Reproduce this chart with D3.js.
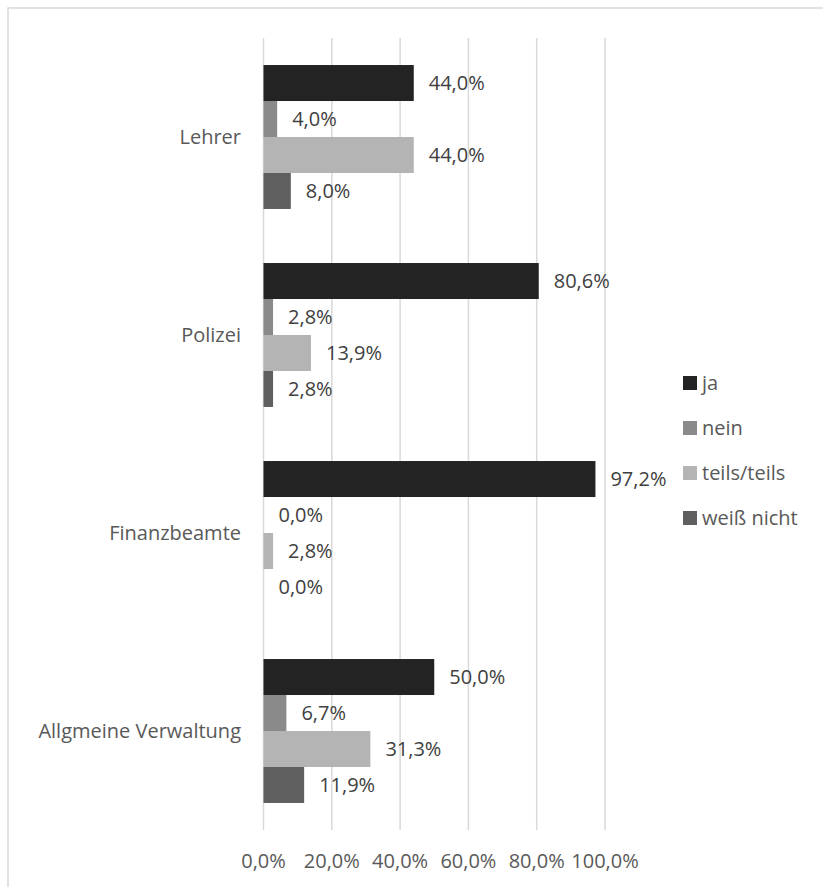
<!DOCTYPE html>
<html>
<head>
<meta charset="utf-8">
<script src="https://cdn.jsdelivr.net/npm/d3@7"></script>
<style>
  body { margin: 0; background: #fff; }
</style>
</head>
<body>
<div id="chart"></div>
<script>
var categories = ["Lehrer", "Polizei", "Finanzbeamte", "Allgmeine Verwaltung"];
var seriesNames = ["ja", "nein", "teils/teils", "weiß nicht"];
var seriesColors = ["#232323", "#8a8a8a", "#b4b4b4", "#5f5f5f"];
var jaValues = [44.0, 80.6, 97.2, 50.0];
var neinValues = [4.0, 2.8, 0.0, 6.7];
var teilsValues = [44.0, 13.9, 2.8, 31.3];
var weissValues = [8.0, 2.8, 0.0, 11.9];
var xTicks = [0, 20, 40, 60, 80, 100];

var seriesValues = [jaValues, neinValues, teilsValues, weissValues];

var W = 823, H = 887;
var fontFam = "'Open Sans', sans-serif";
var fontSize = '20px';

var svg = d3.select('#chart').append('svg')
    .attr('width', W)
    .attr('height', H);

// chart border
svg.append('rect')
    .attr('x', 8).attr('y', 8)
    .attr('width', W + 20).attr('height', H + 20)
    .attr('fill', 'none')
    .attr('stroke', '#d9d9d9')
    .attr('stroke-width', 1.5);

var plotLeft = 263.5, plotRight = 605, plotTop = 38, plotBottom = 830;

var xscale = d3.scaleLinear()
    .domain([0, 100])
    .range([plotLeft, plotRight]);

var yscale = d3.scaleBand()
    .domain(categories)
    .range([plotTop, plotBottom])
    .paddingInner(0.273)
    .paddingOuter(0.1365);

var inner = d3.scaleBand()
    .domain(d3.range(seriesNames.length))
    .range([0, yscale.bandwidth()]);

// gridlines
svg.append('g')
    .selectAll('line')
    .data(xTicks)
    .enter()
    .append('line')
    .attr('x1', function (d) { return xscale(d); })
    .attr('x2', function (d) { return xscale(d); })
    .attr('y1', plotTop)
    .attr('y2', plotBottom)
    .attr('stroke', '#d9d9d9')
    .attr('stroke-width', 1.5);

// x tick labels
svg.append('g')
    .selectAll('text')
    .data(xTicks)
    .enter()
    .append('text')
    .attr('x', function (d) { return xscale(d); })
    .attr('y', 868)
    .attr('text-anchor', 'middle')
    .attr('fill', '#595959')
    .attr('font-family', fontFam)
    .attr('font-size', fontSize)
    .text(function (d) { return d.toFixed(1).replace('.', ',') + '%'; });

// category labels
svg.append('g')
    .selectAll('text')
    .data(categories)
    .enter()
    .append('text')
    .attr('x', 241)
    .attr('y', function (d) { return yscale(d) + yscale.bandwidth() / 2; })
    .attr('dy', '0.35em')
    .attr('text-anchor', 'end')
    .attr('fill', '#595959')
    .attr('font-family', fontFam)
    .attr('font-size', fontSize)
    .text(function (d) { return d; });

// bars
var rows = [];
categories.forEach(function (c, ci) {
    seriesValues.forEach(function (vals, si) {
        rows.push({ cat: c, s: si, v: vals[ci] });
    });
});

var g = svg.append('g');
g.selectAll('rect')
    .data(rows)
    .enter()
    .append('rect')
    .attr('x', xscale(0))
    .attr('y', function (d) { return yscale(d.cat) + inner(d.s); })
    .attr('width', function (d) { return xscale(d.v) - xscale(0); })
    .attr('height', inner.bandwidth())
    .attr('fill', function (d) { return seriesColors[d.s]; });

g.selectAll('text')
    .data(rows)
    .enter()
    .append('text')
    .attr('x', function (d) { return xscale(d.v) + 15; })
    .attr('y', function (d) { return yscale(d.cat) + inner(d.s) + inner.bandwidth() / 2; })
    .attr('dy', '0.35em')
    .attr('fill', '#404040')
    .attr('font-family', fontFam)
    .attr('font-size', fontSize)
    .text(function (d) { return d.v.toFixed(1).replace('.', ',') + '%'; });

// legend
var legend = svg.append('g')
    .selectAll('g')
    .data(seriesNames)
    .enter()
    .append('g')
    .attr('transform', function (d, i) { return 'translate(683,' + (383 + i * 45) + ')'; });

legend.append('rect')
    .attr('x', 0).attr('y', -7)
    .attr('width', 14).attr('height', 14)
    .attr('fill', function (d, i) { return seriesColors[i]; });

legend.append('text')
    .attr('x', 19)
    .attr('dy', '0.35em')
    .attr('fill', '#595959')
    .attr('font-family', fontFam)
    .attr('font-size', fontSize)
    .text(function (d) { return d; });
</script>
</body>
</html>
